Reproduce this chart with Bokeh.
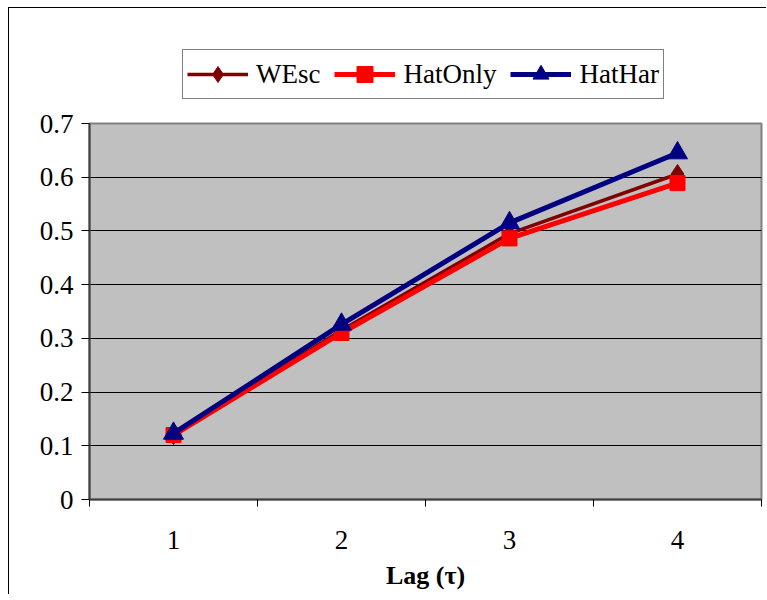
from bokeh.plotting import figure
from bokeh.layouts import column
from bokeh.models import (FixedTicker, CustomJSTickFormatter, Legend, LegendItem,
                          ColumnDataSource, Range1d)
from bokeh.embed import file_html
from bokeh.resources import INLINE

# Values per lag for the three estimators
lags = [1, 2, 3, 4]
lag_labels = ["1", "2", "3", "4"]
wesc = [0.12, 0.315, 0.495, 0.606]
hat_only = [0.12, 0.31, 0.486, 0.589]
hat_har = [0.123, 0.326, 0.515, 0.645]

y_ticks = [0, 0.1, 0.2, 0.3, 0.4, 0.5, 0.6, 0.7]

series_names = ["WEsc", "HatOnly", "HatHar"]
series_colors = ["#800000", "#FF0000", "#000080"]
series_markers = ["diamond", "square", "triangle"]
line_widths = [3.5, 5, 5]
marker_sizes = [19, 15, 20]

SERIF = "Liberation Serif"

src = ColumnDataSource(dict(x=lags, WEsc=wesc, HatOnly=hat_only, HatHar=hat_har))

# ---- main chart -------------------------------------------------------
p = figure(width=757, height=490, output_backend="svg", toolbar_location=None,
           x_range=Range1d(0.5, 4.5), y_range=Range1d(0, 0.7),
           min_border_left=80, min_border_top=19, min_border_right=5,
           min_border_bottom=95)

p.background_fill_color = "#C0C0C0"
p.border_fill_color = "#FFFFFF"
p.outline_line_color = "#808080"
p.outline_line_width = 2

p.yaxis.ticker = FixedTicker(ticks=y_ticks)
p.yaxis.formatter = CustomJSTickFormatter(code="return tick == 0 ? '0' : tick.toFixed(1);")
p.yaxis.major_tick_out = 8
p.yaxis.major_tick_in = 0
p.yaxis.minor_tick_line_color = None
p.yaxis.major_tick_line_color = "#000000"
p.yaxis.axis_line_color = "#404040"
p.yaxis.axis_line_width = 2
p.yaxis.major_label_text_font = SERIF
p.yaxis.major_label_text_font_size = "27px"
p.yaxis.major_label_text_color = "#000000"
p.yaxis.major_label_standoff = 8

# labels at category centres, tick marks on category boundaries
p.xaxis.ticker = FixedTicker(ticks=lags, minor_ticks=[0.5, 1.5, 2.5, 3.5, 4.5])
p.xaxis.major_label_overrides = {k: v for k, v in zip(lags, lag_labels)}
p.xaxis.major_tick_out = 0
p.xaxis.major_tick_in = 0
p.xaxis.minor_tick_out = 7
p.xaxis.minor_tick_in = 0
p.xaxis.minor_tick_line_color = "#000000"
p.xaxis.axis_line_color = "#404040"
p.xaxis.axis_line_width = 2
p.xaxis.major_label_text_font = SERIF
p.xaxis.major_label_text_font_size = "27px"
p.xaxis.major_label_text_color = "#000000"
p.xaxis.major_label_standoff = 24
p.xaxis.axis_label = "Lag (τ)"
p.xaxis.axis_label_text_font = SERIF
p.xaxis.axis_label_text_font_size = "26px"
p.xaxis.axis_label_text_font_style = "bold"
p.xaxis.axis_label_text_color = "#000000"
p.xaxis.axis_label_standoff = 9

p.xgrid.grid_line_color = None
p.ygrid.ticker = FixedTicker(ticks=y_ticks[1:-1])
p.ygrid.grid_line_color = "#000000"
p.ygrid.grid_line_width = 1

for name, color, marker, lw, ms in zip(series_names, series_colors, series_markers,
                                       line_widths, marker_sizes):
    p.line("x", name, source=src, line_color=color, line_width=lw)
    p.scatter("x", name, source=src, marker=marker, size=ms,
              fill_color=color, line_color=color)

# ---- legend strip above the chart ------------------------------------
# The strip's own ranges sit away from the data, so only the legend shows.
leg = figure(width=757, height=96, output_backend="svg", toolbar_location=None,
             x_range=Range1d(100, 101), y_range=Range1d(100, 101),
             x_axis_location=None, y_axis_location=None,
             min_border_left=0, min_border_right=0, min_border_top=0, min_border_bottom=0)
leg.outline_line_color = None
leg.background_fill_color = "#FFFFFF"
leg.border_fill_color = "#FFFFFF"
leg.xgrid.visible = False
leg.ygrid.visible = False

items = []
for name, color, marker, lw in zip(series_names, series_colors, series_markers, line_widths):
    r_line = leg.line("x", name, source=src, line_color=color, line_width=lw)
    r_mark = leg.scatter("x", name, source=src, marker=marker,
                         fill_color=color, line_color=color)
    items.append(LegendItem(label=name, renderers=[r_line, r_mark]))

legend = Legend(items=items, orientation="horizontal", location=(93, 5))
legend.label_text_font = SERIF
legend.label_text_font_size = "27px"
legend.label_text_color = "#000000"
legend.glyph_width = 61
legend.glyph_height = 40
legend.label_height = 40
legend.label_standoff = 8
legend.spacing = 14
legend.padding = 4
legend.margin = 0
legend.border_line_color = "#000000"
legend.border_line_width = 1
legend.background_fill_color = "#FFFFFF"
legend.background_fill_alpha = 1
leg.add_layout(legend)

page = column(leg, p, spacing=0)
page.margin = (7, 0, 0, 8)
page.styles = {"border-left": "1.5px solid #000000", "border-top": "1.5px solid #000000"}

open("out.html", "w").write(file_html(page, INLINE))
